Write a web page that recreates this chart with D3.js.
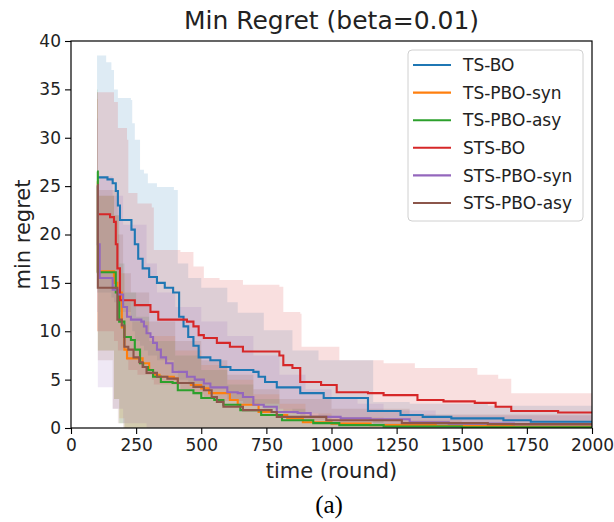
<!DOCTYPE html>
<html>
<head>
<meta charset="utf-8">
<script src="https://cdn.jsdelivr.net/npm/d3@7"></script>
<style>
  html, body { margin: 0; padding: 0; background: #fff; }
  svg { display: block; font-family: "DejaVu Sans", sans-serif; }
</style>
</head>
<body>
<svg id="chart" width="614" height="522"></svg>
<script>
// ---------------- DATA ----------------
const seriesNames = ["TS-BO", "TS-PBO-syn", "TS-PBO-asy", "STS-BO", "STS-PBO-syn", "STS-PBO-asy"];
const seriesColors = ["#1f77b4", "#ff7f0e", "#2ca02c", "#d62728", "#9467bd", "#8c564b"];
const xTicks = [0, 250, 500, 750, 1000, 1250, 1500, 1750, 2000];
const yTicks = [0, 5, 10, 15, 20, 25, 30, 35, 40];

// mean min-regret, step series: [round, value]
const tsBO = [[100,25.9],[140,25.7],[160,25.3],[172,24.5],[180,23],[188,21.5],[232,20.5],[245,19],[258,17.5],[275,16.5],[300,15.6],[330,15],[360,14.5],[392,14],[415,11.5],[432,10.5],[450,9.4],[470,8.5],[490,7.3],[535,7.0],[573,6.3],[612,6.0],[700,5.8],[720,5.3],[745,4.75],[790,4.2],[880,3.6],[970,3.1],[1140,1.75],[1265,1.35],[1350,1.15],[1460,1.0],[1660,0.8],[1765,0.65],[2000,0.65]];
const tsPBOsyn = [[100,25.5],[103,16.2],[165,15],[178,14],[195,10.4],[205,8.1],[215,7.2],[275,6.7],[300,6.0],[315,5.5],[340,5.3],[395,5.1],[410,4.65],[460,4.45],[500,4.1],[530,3.6],[610,2.9],[640,2.4],[720,1.65],[790,1.35],[830,1.0],[890,0.6],[1000,0.45],[1150,0.3],[1400,0.2],[1700,0.15],[2000,0.12]];
const tsPBOasy = [[100,26.5],[103,16.1],[165,16.1],[172,14],[185,11],[205,9.4],[230,9.1],[245,8.1],[265,6.7],[277,6.3],[295,6.0],[315,5.3],[345,4.75],[390,4.65],[410,3.9],[470,3.6],[500,3.1],[550,2.9],[585,2.4],[650,1.85],[730,1.35],[810,0.8],[930,0.5],[1030,0.3],[1200,0.15],[1500,0.08],[2000,0.05]];
const stsBO = [[100,22.1],[150,21.8],[165,21.3],[172,19],[178,16.5],[188,13.2],[245,12.7],[305,12.0],[335,11.2],[445,11.0],[470,10.5],[490,9.6],[510,9.3],[560,8.8],[610,8.4],[660,7.9],[800,7.5],[815,6.5],[850,6.2],[880,4.75],[960,4.45],[1020,3.7],[1140,3.6],[1200,3.4],[1330,2.9],[1430,2.75],[1550,2.6],[1630,2.2],[1690,1.75],[1870,1.6],[2000,1.6]];
const stsPBOsyn = [[100,25],[103,19],[110,15.5],[160,14.3],[180,13.8],[200,12.5],[215,11.5],[230,11.2],[270,11.0],[280,10.5],[290,9.8],[305,9.4],[315,8.8],[330,8.1],[345,7.3],[365,6.7],[390,5.8],[445,5.3],[475,5.0],[510,4.6],[535,4.2],[600,3.7],[640,3.6],[660,3.2],[700,2.4],[740,2.2],[790,1.65],[870,1.55],[920,1.15],[1035,1.0],[1150,0.9],[1300,0.6],[1450,0.45],[1700,0.4],[2000,0.35]];
const stsPBOasy = [[100,25.1],[103,14.5],[160,14.5],[178,11.2],[195,10.6],[205,8.4],[220,8.1],[240,7.3],[262,6.8],[275,6.3],[290,5.7],[330,5.3],[370,5.1],[410,4.65],[470,4.25],[510,3.9],[540,3.2],[560,2.7],[585,2.2],[660,1.85],[770,1.65],[790,1.15],[980,0.8],[1270,0.5],[1600,0.4],[2000,0.35]];

// shaded spread bands: [round, lower, upper]
const tsBOBand = [[100,14,38.5],[135,14,37.8],[155,13.5,37],[165,13,35],[180,12,34.1],[230,11,33.9],[235,10,31.5],[245,9,29.8],[265,8.5,26.7],[280,8,26.3],[295,7.5,25.3],[330,7,24.9],[395,6,24.6],[410,5,17],[450,4.5,15.5],[500,4,14.5],[600,3,13],[640,2.5,11.9],[740,2,10.1],[850,1.5,8],[950,1,7],[1160,0.3,2.7],[1300,0.2,2.5],[1600,0,2.3],[2000,0,2.2]];
const tsPBOsynBand = [[100,10,34],[103,8,24],[165,3,22],[185,1,16],[205,0,13],[230,0,11],[300,0,9.5],[400,0,8],[500,0,6.5],[600,0,5],[700,0,3.5],[800,0,2.5],[900,0,1.5],[1000,0,1.1],[1200,0,0.8],[1500,0,0.5],[2000,0,0.4]];
const tsPBOasyBand = [[100,18,35],[103,8,24],[165,3,22],[185,0.5,17],[205,0,14],[250,0,11.5],[300,0,9],[400,0,7.5],[500,0,6],[600,0,4.5],[700,0,3],[800,0,2],[900,0,1.3],[1000,0,0.8],[1200,0,0.5],[2000,0,0.2]];
const stsBOBand = [[100,10,34.7],[150,10,34.7],[165,9,33.7],[180,8,31],[215,7,29.8],[220,6,24.3],[255,5.5,23.2],[310,5,22.8],[318,4.5,18.4],[420,4,18.2],[470,3.5,16.7],[510,3,15.5],[570,2.8,15.3],[660,2.5,14.8],[800,2,14.6],[815,1.5,12],[880,1,11.8],[885,0.8,8.4],[1030,0.5,7.0],[1200,0.3,6.7],[1320,0.2,6.2],[1560,0,5.5],[1640,0,5.1],[1690,0,3.6],[2000,0,3.4]];
const stsPBOsynBand = [[100,12,32],[103,4.2,26],[160,2,24],[200,0.5,21],[290,0,17],[330,0,14],[400,0,12.5],[500,0,11],[600,0,9.5],[700,0,7.5],[800,0,5.5],[900,0,4],[1000,0,3.2],[1100,0,2.5],[1200,0,1.8],[1400,0,1.3],[2000,0,1]];
const stsPBOasyBand = [[100,15,34.7],[103,7,24.6],[160,2,24.6],[180,0.5,20],[200,0,16],[230,0,14],[300,0,11],[400,0,9],[500,0,7],[600,0,5.5],[700,0,4],[800,0,3],[1000,0,2],[1300,0,1.4],[2000,0,1]];

const seriesLines = [tsBO, tsPBOsyn, tsPBOasy, stsBO, stsPBOsyn, stsPBOasy];
const seriesBands = [tsBOBand, tsPBOsynBand, tsPBOasyBand, stsBOBand, stsPBOsynBand, stsPBOasyBand];

// ---------------- CHART ----------------
const svg = d3.select("#chart");
const L = 71, R = 592, T = 41, B = 428;
const x = d3.scaleLinear().domain([0, 2000]).range([L, R]);
const y = d3.scaleLinear().domain([0, 40]).range([B, T]);

svg.append("defs").append("clipPath").attr("id", "clip")
  .append("rect").attr("x", L).attr("y", T).attr("width", R - L).attr("height", B - T);

const plot = svg.append("g").attr("clip-path", "url(#clip)");

const area = d3.area().curve(d3.curveStepAfter)
  .x(d => x(d[0])).y0(d => y(d[1])).y1(d => y(d[2]));
const line = d3.line().curve(d3.curveStepAfter)
  .x(d => x(d[0])).y(d => y(d[1]));

seriesBands.forEach((b, i) => {
  plot.append("path").attr("d", area(b))
    .attr("fill", seriesColors[i]).attr("fill-opacity", 0.15).attr("stroke", "none");
});
seriesLines.forEach((s, i) => {
  plot.append("path").attr("d", line(s))
    .attr("fill", "none").attr("stroke", seriesColors[i]).attr("stroke-width", 2.1)
    .attr("stroke-linejoin", "miter");
});

// axes
const xAxis = svg.append("g").attr("transform", `translate(0,${B})`)
  .call(d3.axisBottom(x).tickValues(xTicks).tickSize(6).tickPadding(5).tickFormat(d3.format("d")));
const yAxis = svg.append("g").attr("transform", `translate(${L},0)`)
  .call(d3.axisLeft(y).tickValues(yTicks).tickSize(6).tickPadding(4).tickFormat(d3.format("d")));
[xAxis, yAxis].forEach(a => {
  a.select(".domain").remove();
  a.selectAll("line").attr("stroke", "#000").attr("stroke-width", 1.1);
  a.selectAll("text").attr("font-size", 17).attr("fill", "#222").attr("font-family", "DejaVu Sans");
});

// frame
svg.append("rect").attr("x", L).attr("y", T).attr("width", R - L).attr("height", B - T)
  .attr("fill", "none").attr("stroke", "#000").attr("stroke-width", 1.2);

// titles
svg.append("text").attr("x", (L + R) / 2).attr("y", 29).attr("text-anchor", "middle")
  .attr("font-size", 25).attr("fill", "#222").text("Min Regret (beta=0.01)");
svg.append("text").attr("x", (L + R) / 2).attr("y", 478).attr("text-anchor", "middle")
  .attr("font-size", 21).attr("fill", "#222").text("time (round)");
svg.append("text").attr("transform", `translate(30,${(T + B) / 2}) rotate(-90)`)
  .attr("text-anchor", "middle").attr("font-size", 21).attr("fill", "#222").text("min regret");
svg.append("text").attr("x", 329).attr("y", 513).attr("text-anchor", "middle")
  .attr("font-size", 25).attr("font-family", "Liberation Serif, Times New Roman, serif")
  .attr("fill", "#000").text("(a)");

// legend
const lg = svg.append("g");
lg.append("rect").attr("x", 408).attr("y", 50).attr("width", 175).attr("height", 171)
  .attr("rx", 4).attr("fill", "#fff").attr("fill-opacity", 0.8)
  .attr("stroke", "#d0d0d0").attr("stroke-width", 1);
seriesNames.forEach((n, i) => {
  const yy = 65 + i * 27.6;
  lg.append("line").attr("x1", 413).attr("x2", 451).attr("y1", yy).attr("y2", yy)
    .attr("stroke", seriesColors[i]).attr("stroke-width", 2.1);
  lg.append("text").attr("x", 463).attr("y", yy).attr("dy", "0.36em")
    .attr("font-size", 17).attr("fill", "#222").text(n);
});
</script>
</body>
</html>
